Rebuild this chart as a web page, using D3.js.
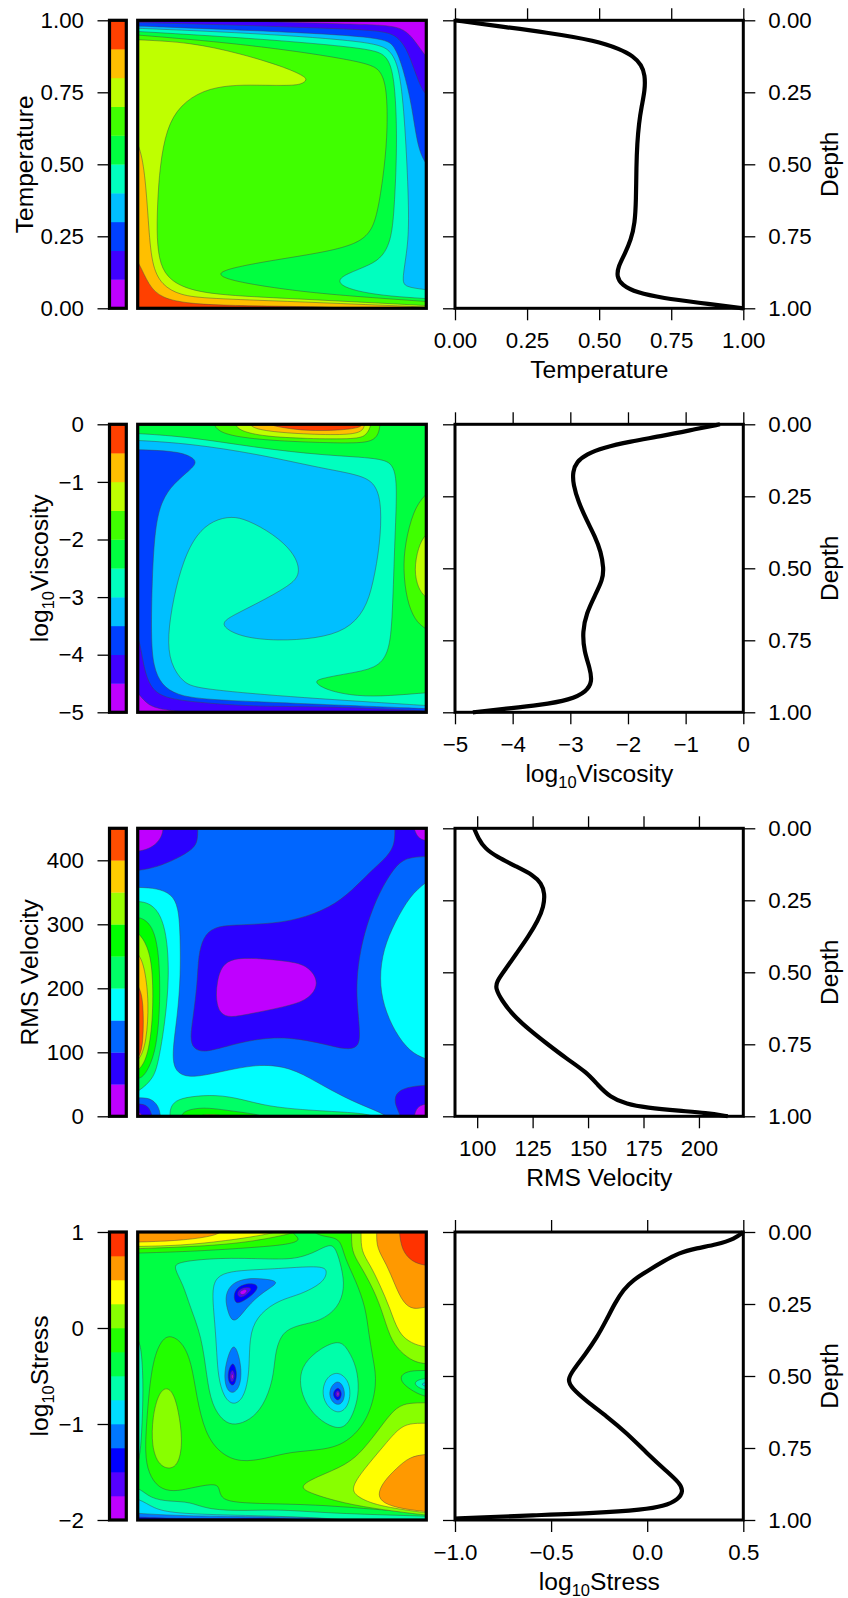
<!DOCTYPE html>
<html><head><meta charset="utf-8">
<script src="https://cdn.jsdelivr.net/npm/d3@7"></script>
<style>html,body{margin:0;padding:0;background:#fff}svg{display:block}text{font-family:"Liberation Sans",Arial,sans-serif;fill:#000}</style>
</head><body><svg id="c" width="848" height="1598"></svg>
<script>
// ---- colour bands (bottom to top) ----
const colors10=["#bf00ff","#4000ff","#0040ff","#00bfff","#00ffbf","#00ff40","#40ff00","#bfff00","#ffbf00","#ff4000"];
const colors9=["#bf00ff","#2a00ff","#0066ff","#00ffff","#00ff66","#00ff00","#99ff00","#ffcc00","#ff4d00"];
const colors12=["#bf00ff","#5500ff","#0000ff","#0077ff","#00ddff","#00ffaa","#00ff44","#22ff00","#88ff00","#ffff00","#ff9900","#ff3300"];
// ---- tick values ----
const tempTicks=[0,.25,.5,.75,1], viscTicks=[-5,-4,-3,-2,-1,0], rmsLeftTicks=[0,100,200,300,400], rmsProfileTicks=[100,125,150,175,200];
const stressLeftTicks=[-2,-1,0,1], stressProfileTicks=[-1,-.5,0,.5], depthTicks=[0,.25,.5,.75,1];
// ---- isolines: [band, [[x %, depth %], ...]] painted in order ----
const tempRegions=[
[1,[[30,-2],[34,.1],[53,.7],[70,1.2],[85,1.6],[91.5,2.6],[95,5.7],[98,10],[101,14],[105,20],[105,105],[-5,105],[-5,-5]]],
[2,[[-5,.5],[0,.8],[30,1.5],[60,2.6],[85,3.4],[90.3,5.7],[93.8,10.9],[97.2,21.3],[99.5,25.7],[103,28],[105,30],[105,105],[-5,105]]],
[3,[[-5,1.8],[0,2],[40,3.5],[85,5.7],[89,8.6],[92,16.7],[95,29.4],[97,44.5],[100,50.3],[103,53],[105,55],[105,105],[-5,105]]],
[4,[[-5,2.5],[.5,2.8],[41,4.5],[81.6,7.4],[88,10.3],[90.9,17.8],[92.6,35.2],[94,64.2],[93.8,78],[91.5,90.3],[92.6,92.6],[99.5,93.5],[105,94],[105,105],[-5,105]]],
[5,[[-5,3.6],[.5,3.9],[41,6.3],[80.5,9.7],[86.3,12],[89,19],[90,41],[89,64.2],[88,75.8],[85,82],[80.5,85],[72.4,88],[69.2,90.3],[71.3,92.6],[78,94.5],[87.4,95.8],[99.5,96.6],[105,97],[105,105],[-5,105]]],
[6,[[-5,4.8],[.5,5.1],[41,8.6],[79.3,14.4],[84.5,17.3],[86.5,24.8],[86.5,41],[85,55],[82.8,68.8],[80,74.6],[74.7,78],[64.3,80.6],[47,83.3],[34.3,85.6],[27.7,87.6],[29.7,89.5],[37.8,91.4],[52.8,93.7],[70,95.5],[99.5,97.6],[105,98],[105,105],[-5,105]]],
[7,[[-5,6.5],[.5,6.8],[18,7.6],[35.5,11.5],[50.5,16.1],[57.4,19.2],[58.8,20.7],[56.8,22.2],[52.8,22.7],[41.2,22.5],[32,22.5],[22.7,24.2],[14.7,29.4],[10,37.5],[7.7,50.3],[6.8,64.2],[6.6,75.8],[7.7,85],[11.2,90.3],[18,93.7],[29.7,95.5],[52.8,96.6],[76,97.8],[99.5,99],[105,99.4],[105,105],[-5,105]]],
[8,[[-3,38],[.5,42.8],[2.5,52.6],[3.7,70],[4.8,85],[8.3,92],[14.7,95.5],[24,96.6],[52.8,97.6],[76,98.6],[99.5,99.5],[105,100],[105,105],[-5,105]]],
[9,[[-3,80],[.5,84],[3.7,92],[8.3,96.6],[18,98.4],[30.8,99],[50,99.3],[70,99.6],[85,101],[85,105],[-5,105]]]
];
const viscRegions=[
[1,[[-2,91],[.5,93.8],[3.1,97],[6.6,98.7],[13.5,99.7],[30,101],[105,105],[105,-5],[-5,-5]]],
[2,[[-3,68],[.5,73.3],[2,84.3],[4.3,91.2],[8.3,94.7],[18,96.4],[41.2,98.1],[64.3,97.9],[99.5,99.5],[105,100],[105,-5],[-5,-5]]],
[3,[[-5,8.7],[.5,8.8],[12.4,9.3],[18,10.8],[20.8,13.1],[18,16],[12.4,20.6],[8.3,26.4],[6,35.6],[5,53],[4.6,73.8],[5.4,84.3],[8.3,90.6],[13.5,94],[22.7,95.6],[52.8,96.8],[99.5,98.7],[105,99],[105,-5],[-5,-5]]],
[4,[[-5,5.4],[.5,5.6],[18,6.7],[41,10.2],[64.3,15.4],[78,17.7],[82.8,21.2],[84.5,28.7],[84,41.4],[81.6,55.3],[78.8,64.6],[72.4,71.5],[62,74.4],[48.2,75.2],[36.6,74],[30.3,71],[29.4,68.6],[33.1,66.3],[41.2,62.3],[52.8,56],[56.6,51.9],[54.5,44.9],[47,38],[37.8,33.1],[32.6,31.9],[26.2,33.3],[20.4,38],[15.8,47.2],[12.4,60],[10.3,73.8],[11.2,83],[15.8,90],[21.6,91.9],[52.8,94.7],[99.5,97.6],[105,98],[105,-5],[-5,-5]]],
[5,[[-5,3],[.5,3.2],[18,4.4],[41,8.1],[64.3,10.8],[85,11.7],[88.6,14.2],[90,20.6],[89,41.4],[88.2,70.4],[86.8,79.6],[82.8,84.8],[72.4,86.6],[63.2,88.3],[61,89.5],[65.5,92.4],[75.9,94.5],[87.4,94.3],[99.5,93.2],[105,93],[105,-5],[-5,-5]]],
[6,[[25.5,-5],[26.2,0],[27.9,2.3],[33,4.2],[47,5.8],[73.6,6.7],[81.6,6.1],[84,2.7],[84.3,-5]]],
[6,[[105,20],[99.5,24.3],[95.5,29.9],[92.6,41.4],[92,50.7],[93.2,61],[96,68],[99.5,71],[105,74]]],
[7,[[32.8,-5],[33.5,0],[35.5,2.3],[43.5,4.2],[58.5,5],[76,5.2],[79.3,3.8],[81,.3],[81.3,-5]]],
[7,[[105,34],[99.5,38.2],[97.2,42.6],[95.7,50.7],[97.2,57],[99.5,60],[105,64]]],
[8,[[37.5,-5],[38.3,0],[41.2,1.9],[52.8,3.2],[70,3.8],[77.6,3],[78.8,.3],[79,-5]]],
[9,[[43,-5],[44,0],[50.5,1.2],[58.5,2.3],[70,2.1],[77,1.2],[78,0],[78.5,-5]]]
];
const rmsRegions=[
[2,[[-5,-5],[105,-5],[105,105],[-5,105]]],
[1,[[-5,15],[.5,14.7],[6.6,13.5],[13.5,10.6],[19.3,7.2],[20.8,4.3],[20.8,0],[20.8,-5],[-5,-5]]],
[0,[[-5,8.5],[.5,8.1],[5.4,6.6],[8.3,3.1],[8.9,0],[9,-5],[-5,-5]]],
[1,[[89.1,-5],[89.1,0],[89.1,5.4],[86.8,9.5],[81.6,14.1],[75.9,19.9],[69,26.2],[58.5,30.9],[47,33.2],[33.1,33.5],[26.2,34.3],[22.7,37.8],[21,44.2],[20.7,53.4],[19.3,65],[18.1,73],[19.3,76.5],[22.7,77.9],[29.7,76],[41.2,73],[52.8,72.5],[64.3,74.8],[72.4,77],[76.4,76],[77.2,71.9],[75.9,60.3],[75.9,51],[77.6,39.5],[81.6,26.8],[86.3,17.6],[90.9,11.2],[95.5,10],[99.5,9.8],[105,9.8],[105,-5]]],
[0,[[95.3,-5],[95.5,0],[97.2,3.5],[99.5,4.3],[105,4.5],[105,-5]]],
[0,[[33.1,45.1],[41.2,45.1],[52.8,46.2],[58.5,47.6],[62,51.7],[62,55.7],[58.5,59.8],[50.5,62.1],[38.9,64.4],[32,65.8],[28.5,64.4],[27.1,59.8],[27.4,53.4],[29.1,47.6]]],
[1,[[105,89],[99.5,89.2],[93.2,89.8],[89.1,92],[89.1,96.2],[91.4,100],[92,105],[105,105]]],
[0,[[105,95.3],[99.5,95.6],[96.7,96.8],[95.7,100],[95.5,105],[105,105]]],
[3,[[-5,20.5],[.5,20.5],[6.6,20.8],[11.8,22.8],[14.1,27.4],[14.7,36],[14.9,51],[13.8,65],[11.8,78.8],[13,84.6],[17.6,86.7],[26.2,85.2],[41.2,81.7],[52.8,82.9],[62,88.1],[71.3,93.3],[80.5,97.3],[87.4,100],[90,105],[-5,105]]],
[3,[[105,15],[99.5,19],[94.4,23.4],[89.1,32.6],[85.1,41.8],[83.7,52.3],[85.1,61.5],[89.1,70.8],[94.4,77.7],[99.5,80],[105,82]]],
[4,[[-5,25],[.5,25.4],[3.7,25.9],[7.2,28.6],[10,36],[11,51],[9.5,67.3],[7.2,81.2],[5.4,87],[.5,91.3],[-5,94]]],
[5,[[-5,30],[.5,30.9],[3.1,32],[6,36],[7.7,46.5],[7.7,65],[6,78.8],[2.5,85.8],[.5,87],[-5,88]]],
[6,[[-5,33],[.5,36.3],[3.1,40.3],[5.2,47.6],[5.4,65],[3.7,78.8],[.5,84.6],[-5,86]]],
[7,[[-5,40],[.5,43.2],[2.5,48.8],[3.9,60.3],[3.1,74.2],[.5,81.2],[-5,84]]],
[8,[[-5,50],[.5,54],[2,60.3],[2,74.2],[.5,80.6],[-5,83]]],
[2,[[-5,93.5],[.5,93.6],[4.3,93.6],[7.2,96.2],[8,100],[8.2,105],[-5,105]]],
[1,[[-5,95.5],[.5,95.6],[3.7,96.2],[5.2,100],[5.4,105],[-5,105]]],
[0,[[-5,98],[.5,98.3],[2,100],[2.2,105],[-5,105]]],
[4,[[11.2,105],[11.2,100],[11.2,97.3],[12.9,94.5],[18,93.1],[27.4,92.5],[35.5,93.9],[44.7,96.5],[58.5,97.9],[75.9,98.7],[84,100],[85,105]]],
[5,[[14.5,105],[14.7,100],[16.4,97.9],[22.7,96.8],[30.8,97.9],[41.2,99.3],[43.5,100],[44,105]]],
[6,[[19,105],[19.3,100],[25,99.1],[31.9,100],[32,105]]]
];
const stressRegions=[
[6,[[-5,-5],[105,-5],[105,105],[-5,105]]],
[7,[[58,-5],[60.8,.9],[66.6,1.7],[70.4,2.7],[71.6,8.8],[75.6,16.9],[79,26.2],[80,35],[81.6,44.4],[83.1,52.5],[79.9,65.3],[72.4,73.4],[64.3,75.7],[52.8,76.3],[44.7,78.6],[35.5,80.1],[28.5,76.9],[23.3,69.9],[20.4,57.2],[18.7,45.6],[15.8,38.7],[11.8,35.8],[8.3,36.9],[4.8,45.6],[3.1,65.3],[2.5,76.9],[3.7,83.8],[7.2,89],[12.4,90.2],[18,89],[26.2,87.3],[28.3,88.4],[28.5,91.9],[32,94],[48.2,94.4],[64.3,94.8],[81.6,96.3],[99.5,97.5],[105,97.8],[105,-5]]],
[5,[[-2,34],[.5,37.7],[1.4,42.1],[2,53.7],[1.4,71],[.5,80.3],[-2,84]]],
[7,[[-5,7.5],[.5,7.3],[20.4,6.7],[41,5.3],[49.3,4.6],[53.9,3.8],[56.2,2.7],[54.5,.9],[52.8,-.5],[51,-5],[-5,-5]]],
[8,[[-5,5.9],[.5,5.8],[32,4.6],[49.4,1.5],[57,-.5],[58,-5],[-5,-5]]],
[9,[[-5,5.1],[.5,5],[14.7,4.7],[29.7,3.2],[49,.3],[51,-2],[51,-5],[-5,-5]]],
[10,[[-5,3.6],[.5,3.5],[14.7,3],[26.2,1.5],[30.2,-.5],[31,-5],[-5,-5]]],
[8,[[74.1,-5],[74.1,.6],[74.1,6.7],[76.9,11.3],[80.9,18.3],[84.4,26.4],[87.4,36.8],[90.9,41.6],[95.5,45],[99.5,45.8],[105,46],[105,-5]]],
[9,[[77.4,-5],[77.4,.6],[77.4,6.7],[80.5,11.3],[83.9,18.3],[87.4,26.4],[90.3,35.2],[94.9,38.7],[99.5,40],[105,40.3],[105,-5]]],
[10,[[82.8,-5],[82.8,.6],[82.8,5.6],[86.3,11.3],[89.1,18.3],[92,24.7],[95.5,27],[99.5,26],[105,25.5],[105,-5]]],
[11,[[90.5,-5],[90.6,0],[91.5,6.3],[94.9,10.3],[99.5,11.7],[105,12],[105,-5]]],
[6,[[105,48],[99.5,48.1],[94.3,48.1],[90.9,49.7],[91.5,52.5],[95.5,55.4],[99.5,57.2],[105,58]]],
[5,[[105,50.5],[99.5,50.9],[97.2,51.3],[95.7,52.5],[97.2,54],[99.5,54.9],[105,55.5]]],
[4,[[105,51.8],[99.5,52.2],[98.2,52.8],[99.5,53.7],[105,54.2]]],
[8,[[105,59.3],[99.5,59.3],[94.3,59.3],[89.7,60.6],[85.1,66.4],[78.2,75.7],[72.4,80.9],[62,85],[55.7,88.4],[59.7,90.7],[71.2,94.2],[85.1,96.5],[99.5,98.3],[105,98.7]]],
[9,[[105,66.4],[99.5,66.4],[94.3,66.4],[90.3,68.2],[85.1,74.5],[78.2,82.6],[73.8,89],[75.9,91.9],[82.8,95.1],[99.5,97.5],[105,98]]],
[10,[[105,77],[99.5,77.2],[94.3,78],[89.7,82],[85.1,86.7],[83,91.3],[85.1,94.2],[90.9,96],[99.5,97.1],[105,97.5]]],
[8,[[10,53.7],[7.2,56],[5.1,64.1],[4.8,74.5],[7.2,80.9],[11.2,82.6],[14.4,80.3],[15.6,72.2],[14.1,61.8],[12.4,56]]],
[5,[[12.4,12.3],[13.7,10.3],[29.7,8.8],[49.3,9.6],[56.2,9],[62,6.7],[66.6,4.1],[68.7,5.6],[70.7,12.5],[71.8,19.4],[69.5,26.4],[63.2,31],[56.2,32.2],[51.6,34],[49.3,36.8],[47.6,42.1],[47,51.4],[43.5,60.6],[38.9,65.3],[33.7,67.2],[29.7,65.9],[25.6,60],[23.9,50.2],[22.2,36.3],[18.1,25.9],[15.8,18.3]]],
[4,[[25.6,20],[27.4,15.4],[32,13.7],[40,13.1],[49.3,12.7],[64.3,11.6],[65.8,13.7],[64.3,17.7],[56.2,21.8],[49.3,23.5],[42.4,28.1],[38.9,34.5],[38.7,44.4],[38.3,51.4],[36.6,57.8],[33.1,60.4],[29.7,57.2],[27.9,50.2],[27.4,42.1],[26.8,32.2]]],
[3,[[33.1,32.8],[30.8,26.4],[30.3,21.8],[32.6,17.7],[37.8,16],[43.5,16.2],[49.9,17.2],[43.5,20.7],[37.8,25.9]]],
[2,[[33.1,21.2],[35.5,18.3],[40,17.7],[42.1,18.9],[40,21.8],[35.5,24.7],[33.7,24.7]]],
[1,[[34.3,20.6],[36.6,19.2],[38.9,19.2],[39.5,20],[37.2,22.3],[34.9,22.9]]],
[0,[[35,21],[36.6,19.9],[38,20],[37.6,21.2],[36.2,22]]],
[3,[[33.1,38.4],[30.8,44.4],[29.9,50.2],[30.8,54.9],[33.1,56.3],[35.5,53.7],[36,47.9],[34.9,42.1]]],
[2,[[32.8,45.3],[31.4,47.9],[31.2,51.4],[32.6,53.7],[33.9,52.5],[34.4,49.1],[33.7,46.4]]],
[1,[[32.6,47.9],[31.8,49.7],[32.2,52],[33.1,52.2],[33.7,49.7],[33.1,48.1]]],
[0,[[32.4,49.6],[32.8,49.2],[33.2,50],[33,51],[32.5,51]]],
[5,[[70,37.3],[63.2,40.4],[57.4,45.6],[55.9,51.4],[57.4,58.3],[62,64.7],[68.4,68.4],[72.4,67.6],[75.3,61.8],[76.8,54.9],[75.9,46.8],[73,41]]],
[4,[[69.5,48.3],[65.5,50.2],[63.8,54.9],[64.9,60],[69.5,63.5],[72.9,60.6],[73.8,56],[73,51.4]]],
[3,[[68.9,51.7],[66.9,53.7],[66.3,56.6],[67.5,59.3],[69.9,60.3],[71.5,58.3],[71.8,55.4],[70.7,52.5]]],
[2,[[69.2,54],[67.8,55.4],[67.8,57.2],[69.2,58.7],[70.3,57.8],[70.7,56],[70.1,54.6]]],
[1,[[69.2,54.9],[68.4,56],[68.7,57.2],[69.6,57.5],[70.1,56.3],[69.8,55.3]]],
[0,[[69,55.9],[69.4,55.4],[69.8,56],[69.6,57],[69.1,56.9]]],
[5,[[-5,88],[.6,88.7],[4.3,92.5],[11.2,93.6],[18,93.6],[24.5,96.5],[37.8,96.8],[49.3,96.3],[66.6,97.7],[99,98.6],[105,99],[105,105],[-5,105]]],
[4,[[-5,92],[.6,92.5],[5.4,96],[12.4,97.7],[32,98.3],[52.8,98.8],[71.2,99.7],[80,101],[80,105],[-5,105]]],
[3,[[-5,97.4],[.6,97.7],[14.7,98.6],[41.2,98.8],[64.3,99.2],[72,100.5],[72,105],[-5,105]]],
[2,[[-5,98.8],[.6,99],[18,99.7],[45.8,99.2],[57.4,99.8],[60,101],[60,105],[-5,105]]]
];
// ---- horizontally averaged profiles: [value, depth] ----
const tempProfile=[[0,0],[.145,.02],[.318,.042],[.491,.071],[.572,.1],[.618,.124],[.647,.155],[.659,.19],[.659,.242],[.647,.3],[.638,.358],[.632,.427],[.629,.508],[.628,.624],[.624,.705],[.61,.763],[.59,.809],[.566,.855],[.561,.89],[.578,.919],[.63,.946],[.723,.965],[.838,.98],[1,1]];
const viscProfile=[[-.405,0],[-.81,.016],[-1.39,.04],[-1.97,.06],[-2.43,.081],[-2.72,.104],[-2.89,.13],[-2.96,.164],[-2.95,.21],[-2.86,.269],[-2.72,.332],[-2.57,.39],[-2.47,.442],[-2.42,.5],[-2.44,.54],[-2.57,.593],[-2.72,.656],[-2.79,.72],[-2.76,.789],[-2.66,.847],[-2.62,.894],[-2.72,.928],[-3,.957],[-3.53,.975],[-4.16,.988],[-4.69,1]];
const rmsProfile=[[98.6,0],[100.5,.035],[103.5,.07],[108.7,.098],[117.7,.133],[125.2,.162],[129,.191],[130.5,.226],[130,.272],[127.5,.319],[123,.377],[117.7,.435],[112.5,.492],[108.7,.533],[108.3,.556],[111,.597],[116.2,.649],[123.7,.701],[131.3,.747],[140.3,.8],[149.2,.846],[154.5,.892],[159.8,.933],[167.3,.958],[176.3,.97],[191.3,.981],[203.3,.988],[213,1]];
const stressProfile=[[.5,0],[.457,.023],[.361,.044],[.257,.056],[.162,.073],[.084,.102],[-.003,.137],[-.072,.166],[-.124,.2],[-.168,.247],[-.211,.304],[-.263,.368],[-.324,.426],[-.384,.478],[-.416,.513],[-.393,.542],[-.315,.588],[-.211,.64],[-.107,.698],[-.003,.767],[.101,.831],[.17,.872],[.188,.9],[.162,.929],[.084,.953],[-.02,.964],[-.263,.976],[-.61,.984],[-.87,.991],[-1,.995]];

const rows=[
 {top:20.3,name:"Temperature",titleX:33,dom:[0,1],colors:colors10,leftTicks:tempTicks,leftFmt:".2f",regions:tempRegions,prof:tempProfile,pDom:[0,1],pTicks:tempTicks,pFmt:".2f"},
 {top:424.3,name:"Viscosity",log:true,titleX:48,dom:[-5,0],colors:colors10,leftTicks:viscTicks,leftFmt:"d",regions:viscRegions,prof:viscProfile,pDom:[-5,0],pTicks:viscTicks,pFmt:"d"},
 {top:828.3,name:"RMS Velocity",titleX:38,dom:[0,450],colors:colors9,leftTicks:rmsLeftTicks,leftFmt:"d",regions:rmsRegions,prof:rmsProfile,pDom:[90,220],pTicks:rmsProfileTicks,pFmt:"d"},
 {top:1232,name:"Stress",log:true,titleX:48,dom:[-2,1],colors:colors12,leftTicks:stressLeftTicks,leftFmt:"d",regions:stressRegions,prof:stressProfile,pDom:[-1,.5],pTicks:stressProfileTicks,pFmt:".1f"}
];
const H=288, barL=109.5, barR=126.3, boxL=137.7, boxR=426.3, profL=455, profR=743.3;
const svg=d3.select("#c"), FS=22.3, TS=24.6;
function title(g,row,x,y,rot){
  const t=g.append("text").attr("font-size",TS).attr("text-anchor","middle").attr("transform",`translate(${x},${y})`+(rot?" rotate(-90)":""));
  if(row.log){t.append("tspan").text("log");t.append("tspan").attr("font-size",16.5).attr("dy",6).text("10");t.append("tspan").attr("dy",-6).text(row.name);}
  else t.text(row.name);
}
function styleAxis(g,labels){
  g.select(".domain").remove();
  g.selectAll("line").attr("stroke","#000").attr("stroke-width",1.3);
  g.selectAll("text").attr("font-size",FS).style("fill","#000").attr("font-family",'"Liberation Sans",Arial,sans-serif');
  if(!labels) g.selectAll("text").remove();
}
const isOutside=p=>p[0]<-3||p[0]>103||p[1]<-3||p[1]>103;
rows.forEach((row,i)=>{
  const g=svg.append("g");
  const yV=d3.scaleLinear(row.dom,[row.top+H,row.top]);
  const n=row.colors.length, edges=d3.range(n+1).map(k=>row.dom[0]+(row.dom[1]-row.dom[0])*k/n);
  // colour bar
  g.selectAll(".b").data(row.colors).join("rect").attr("x",barL).attr("width",barR-barL)
    .attr("y",(c,k)=>yV(edges[k+1])).attr("height",(c,k)=>yV(edges[k])-yV(edges[k+1])+.3).attr("fill",c=>c);
  g.append("rect").attr("x",barL).attr("y",row.top).attr("width",barR-barL).attr("height",H).attr("fill","none").attr("stroke","#000").attr("stroke-width",3.2);
  g.append("g").attr("transform",`translate(${barL},0)`).call(d3.axisLeft(yV).tickValues(row.leftTicks).tickFormat(d3.format(row.leftFmt)).tickSize(12).tickPadding(13.5)).call(a=>styleAxis(a,true));
  title(g,row,row.titleX,row.top+H/2,true);
  // contour field
  const x=d3.scaleLinear([0,100],[boxL,boxR]), y=d3.scaleLinear([0,100],[row.top,row.top+H]);
  const cid="clip"+i;
  g.append("clipPath").attr("id",cid).append("rect").attr("x",boxL).attr("y",row.top).attr("width",boxR-boxL).attr("height",H);
  const f=g.append("g").attr("clip-path",`url(#${cid})`);
  f.append("rect").attr("x",boxL).attr("y",row.top).attr("width",boxR-boxL).attr("height",H).attr("fill",row.colors[0]);
  const line=d3.line().x(p=>x(p[0])).y(p=>y(p[1])).curve(d3.curveBasisClosed);
  f.selectAll("path").data(row.regions).join("path").attr("d",r=>line(r[1].flatMap(p=>isOutside(p)?[p,p,p]:[p]))).attr("fill",r=>row.colors[r[0]]).attr("stroke","#444").attr("stroke-opacity",.65).attr("stroke-width",.7);
  g.append("rect").attr("x",boxL).attr("y",row.top).attr("width",boxR-boxL).attr("height",H).attr("fill","none").attr("stroke","#000").attr("stroke-width",3.2);
  // profile
  const px=d3.scaleLinear(row.pDom,[profL,profR]), py=d3.scaleLinear([0,1],[row.top,row.top+H]);
  const pl=d3.line().x(p=>px(p[0])).y(p=>py(p[1])).curve(d3.curveBasis);
  g.append("path").attr("d",pl(row.prof)).attr("fill","none").attr("stroke","#000").attr("stroke-width",4.2);
  g.append("rect").attr("x",profL).attr("y",row.top).attr("width",profR-profL).attr("height",H).attr("fill","none").attr("stroke","#000").attr("stroke-width",3);
  g.append("g").attr("transform",`translate(${profL},0)`).call(d3.axisLeft(py).tickValues(depthTicks).tickSize(12)).call(a=>styleAxis(a,false));
  g.append("g").attr("transform",`translate(${profR},0)`).call(d3.axisRight(py).tickValues(depthTicks).tickFormat(d3.format(".2f")).tickSize(12).tickPadding(13)).call(a=>styleAxis(a,true));
  g.append("g").attr("transform",`translate(0,${row.top})`).call(d3.axisTop(px).tickValues(row.pTicks).tickSize(12)).call(a=>styleAxis(a,false));
  g.append("g").attr("transform",`translate(0,${row.top+H})`).call(d3.axisBottom(px).tickValues(row.pTicks).tickFormat(d3.format(row.pFmt)).tickSize(12).tickPadding(12.2)).call(a=>styleAxis(a,true));
  title(g,row,599.3,row.top+H+69.5,false);
  g.append("text").attr("font-size",TS).attr("text-anchor","middle").attr("transform",`translate(838,${row.top+H/2}) rotate(-90)`).text("Depth");
});
</script></body></html>
